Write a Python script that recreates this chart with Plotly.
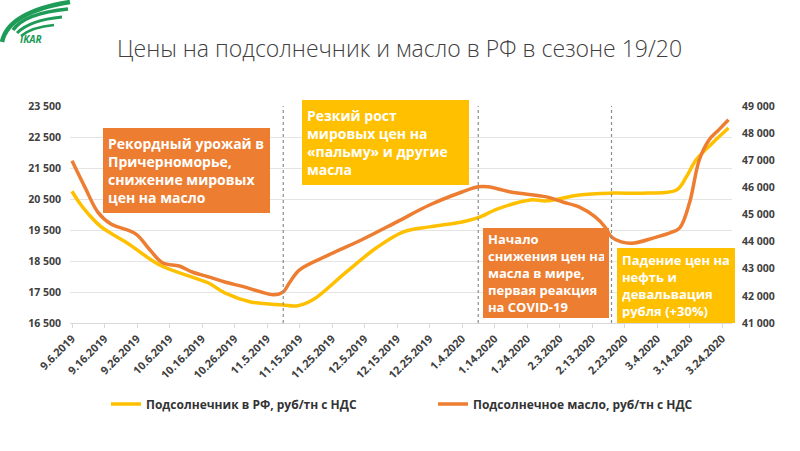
import plotly.graph_objects as go
import pandas as pd

# ---------------- data ----------------
seed_dates = ["2019-09-06", "2019-09-08", "2019-09-11", "2019-09-15", "2019-09-23", "2019-10-03",
              "2019-10-13", "2019-10-18", "2019-10-23", "2019-10-31", "2019-11-10", "2019-11-14",
              "2019-11-19", "2019-11-29", "2019-12-09", "2019-12-17", "2019-12-25", "2020-01-04",
              "2020-01-09", "2020-01-15", "2020-01-25", "2020-01-30", "2020-02-09", "2020-02-19",
              "2020-03-01", "2020-03-10", "2020-03-13", "2020-03-16", "2020-03-21", "2020-03-26"]
seed_values = [20750, 20420, 20020, 19600, 19080, 18370,
               17980, 17790, 17470, 17180, 17080, 17050,
               17240, 18110, 18950, 19440, 19600, 19760,
               19900, 20180, 20470, 20440, 20630, 20690,
               20690, 20790, 21210, 21760, 22300, 22790]

oil_dates = ["2019-09-06", "2019-09-10", "2019-09-14", "2019-09-18", "2019-09-23", "2019-09-26",
             "2019-09-30", "2019-10-04", "2019-10-09", "2019-10-13", "2019-10-18", "2019-10-23",
             "2019-10-29", "2019-11-03", "2019-11-07", "2019-11-10", "2019-11-12", "2019-11-15",
             "2019-11-24", "2019-12-04", "2019-12-15", "2019-12-25", "2020-01-04", "2020-01-09",
             "2020-01-12", "2020-01-19", "2020-01-30", "2020-02-04", "2020-02-09", "2020-02-14",
             "2020-02-17", "2020-02-19", "2020-02-22", "2020-02-26", "2020-03-03", "2020-03-08",
             "2020-03-11", "2020-03-14", "2020-03-17", "2020-03-20", "2020-03-23", "2020-03-26"]
oil_values = [46980, 46000, 45080, 44650, 44430, 44250,
              43690, 43210, 43100, 42880, 42700, 42510,
              42330, 42150, 42040, 42150, 42500, 42960,
              43510, 44060, 44730, 45350, 45830, 46020,
              46020, 45830, 45650, 45460, 45280, 44910,
              44540, 44170, 43990, 43950, 44140, 44320,
              44510, 45430, 47010, 47750, 48120, 48490]

seed_name = "Подсолнечник в РФ, руб/тн с НДС"
oil_name = "Подсолнечное масло, руб/тн с НДС"

x_tick_dates = pd.date_range("2019-09-06", "2020-03-24", freq="10D")
x_tick_text = [f"{d.month}.{d.day}.{d.year}" for d in x_tick_dates]

left_ticks = [16500, 17500, 18500, 19500, 20500, 21500, 22500, 23500]
left_text = ["16 500", "17 500", "18 500", "19 500", "20 500", "21 500", "22 500", "23 500"]
right_ticks = [41000, 42000, 43000, 44000, 45000, 46000, 47000, 48000, 49000]
right_text = ["41 000", "42 000", "43 000", "44 000", "45 000", "46 000", "47 000", "48 000", "49 000"]

event_dates = ["2019-11-10", "2020-01-09", "2020-02-19"]

title_text = "Цены на подсолнечник и масло в РФ в сезоне 19/20"
boxes = [
    ("Рекордный урожай в<br>Причерноморье,<br>снижение мировых<br>цен на масло", "#ED7D31", 103, 128, 167, 85, 14),
    ("Резкий рост<br>мировых цен на<br>«пальму» и другие<br>масла", "#FFC000", 302, 100, 167, 85, 14),
    ("Начало<br>снижения цен на<br>масла в мире,<br>первая реакция<br>на COVID-19", "#ED7D31", 483, 228, 126, 90, 13),
    ("Падение цен на<br>нефть и<br>девальвация<br>рубля (+30%)", "#FFC000", 617, 248, 118, 75, 13),
]

# ---------------- layout helpers ----------------
W, H = 800, 451
L, R, T, B = 70, 732, 106, 323


def px(x):
    return (x - L) / (R - L)


def py(y):
    return (B - y) / (B - T)


FONT = "Open Sans"
YELLOW = "#FFC000"
ORANGE = "#ED7D31"

fig = go.Figure()
fig.add_trace(go.Scatter(x=seed_dates, y=seed_values, name=seed_name, mode="lines",
                         line=dict(color=YELLOW, width=3.5, shape="spline", smoothing=1.0),
                         yaxis="y"))
fig.add_trace(go.Scatter(x=oil_dates, y=oil_values, name=oil_name, mode="lines",
                         line=dict(color=ORANGE, width=3.5, shape="spline", smoothing=1.0),
                         yaxis="y2"))

start = pd.Timestamp("2019-09-06") - pd.Timedelta(days=(72 - L) / 3.25)
end = start + pd.Timedelta(days=(R - L) / 3.25)

fig.update_layout(
    width=W, height=H,
    margin=dict(l=L, r=W - R, t=T, b=H - B),
    paper_bgcolor="white", plot_bgcolor="white",
    font=dict(family=FONT, color="#404040"),
    showlegend=True,
    legend=dict(orientation="h", x=px(106), xanchor="left", y=py(404), yanchor="middle",
                font=dict(family=FONT, size=12, color="#333333", weight="bold"),
                entrywidth=282, entrywidthmode="pixels", bgcolor="rgba(0,0,0,0)"),
    xaxis=dict(type="date", range=[start, end], tickvals=list(x_tick_dates), ticktext=x_tick_text,
               tickangle=-45, showgrid=False, showline=True, linecolor="#d9d9d9",
               ticks="outside", ticklen=4, tickcolor="#d9d9d9", automargin=False,
               tickfont=dict(family=FONT, size=11, color="#404040", weight="bold")),
    yaxis=dict(range=[16500, 23500], tickvals=left_ticks, ticktext=left_text,
               showgrid=True, gridcolor="#e4e4e4", gridwidth=1, zeroline=False,
               showline=False, automargin=False, ticklabelstandoff=8,
               tickfont=dict(family=FONT, size=10.5, color="#404040", weight="bold")),
    yaxis2=dict(range=[41000, 49000], tickvals=right_ticks, ticktext=right_text,
                overlaying="y", side="right", showgrid=False, zeroline=False,
                showline=False, automargin=False, ticklabelstandoff=9,
                tickfont=dict(family=FONT, size=10.5, color="#404040", weight="bold")),
)

# title
fig.add_annotation(text=title_text, xref="paper", yref="paper", x=px(399), y=py(48),
                   xanchor="center", yanchor="middle", showarrow=False,
                   font=dict(family=FONT, size=23, color="#404040", weight=300))

# event dashed lines
for d in event_dates:
    fig.add_shape(type="line", xref="x", yref="paper", x0=d, x1=d, y0=0, y1=1,
                  line=dict(color="#8c8c8c", width=1.2, dash="dot"))

# commentary boxes
pad = 5
for text, color, bx, by, bw, bh, fs in boxes:
    fig.add_annotation(text=text, xref="paper", yref="paper", x=px(bx), y=py(by),
                       xanchor="left", yanchor="top", showarrow=False,
                       width=bw - 2 * pad, height=bh - 2 * pad, borderpad=pad, borderwidth=0,
                       bgcolor=color, align="left", valign="middle",
                       font=dict(family=FONT, size=fs, color="white", weight="bold"))

# logo
GREEN = "#1E9B57"
strokes = [
    ([(2, 42), (8, 12), (70, 2)], 4.5),
    ([(13, 30), (25, 13), (68, 9)], 3.5),
    ([(17, 33), (30, 20), (62, 17)], 3),
    ([(21, 36), (32, 27), (54, 25)], 2.5),
]
for pts, wdt in strokes:
    (x0, y0), (cx, cy), (x1, y1) = pts
    path = f"M {px(x0)},{py(y0)} Q {px(cx)},{py(cy)} {px(x1)},{py(y1)}"
    fig.add_shape(type="path", xref="paper", yref="paper", path=path,
                  line=dict(color=GREEN, width=wdt))
fig.add_annotation(text="<b><i>IKAR</i></b>", xref="paper", yref="paper", x=px(31), y=py(39),
                   xanchor="center", yanchor="middle", showarrow=False,
                   font=dict(family=FONT, size=10, color=GREEN))

fig.write_html("out.html")
